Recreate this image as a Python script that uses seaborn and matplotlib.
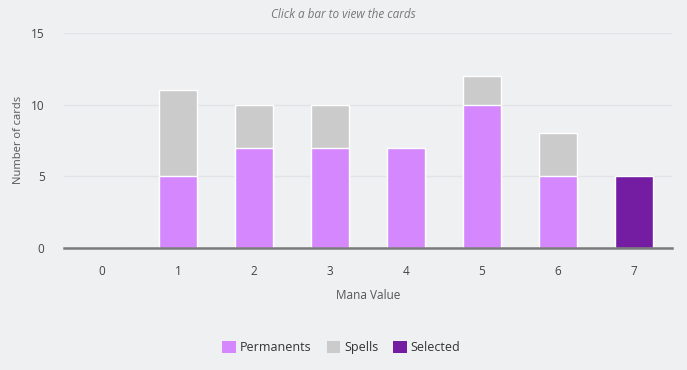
import matplotlib
matplotlib.use("Agg")
import matplotlib.pyplot as plt
import seaborn as sns
import pandas as pd
from matplotlib.patches import Patch

mana_values = ["0", "1", "2", "3", "4", "5", "6", "7"]
permanents = [0, 5, 7, 7, 7, 10, 5, 5]
spells = [0, 6, 3, 3, 0, 2, 3, 0]
selected = "7"

bg = "#eff0f2"
c_perm = "#d587fd"
c_spell = "#cbcbcb"
c_sel = "#741da3"

df = pd.DataFrame({"mana": mana_values, "perm": permanents, "spells": spells})
df["total"] = df["perm"] + df["spells"]

sns.set_theme(style="white")
plt.rcParams["font.family"] = ["Open Sans", "DejaVu Sans"]

fig = plt.figure(figsize=(6.87, 3.70), dpi=100, facecolor=bg)
ax = fig.add_axes([0.093, 0.330, 0.885, 0.581])
ax.set_facecolor(bg)

# totals in grey, permanents drawn over them
sns.barplot(data=df, x="mana", y="total", color=c_spell, width=0.49, saturation=1,
            edgecolor="white", linewidth=1.0, ax=ax)
perm_colors = [c_sel if m == selected else c_perm for m in mana_values]
sns.barplot(data=df, x="mana", y="perm", hue="mana", palette=perm_colors,
            legend=False, width=0.49, saturation=1, edgecolor="white",
            linewidth=1.0, ax=ax)

ax.set_xlim(-0.5, 7.5)
ax.set_ylim(0, 15)
ax.set_yticks([0, 5, 10, 15])
ax.yaxis.grid(True, color="#e2e3e6", linewidth=1)
ax.set_axisbelow(True)
for s in ["top", "right", "left"]:
    ax.spines[s].set_visible(False)
ax.spines["bottom"].set_color("#7a7a7a")
ax.spines["bottom"].set_linewidth(1.8)
ax.spines["bottom"].set_zorder(5)
ax.tick_params(axis="both", length=0, labelsize=8.5, labelcolor="#444444")
ax.tick_params(axis="x", pad=12)
ax.tick_params(axis="y", pad=14)

ax.set_xlabel("Mana Value", fontsize=8.5, color="#555555", labelpad=8)
ax.set_ylabel("Number of cards", fontsize=8, color="#555555", labelpad=5)

fig.text(0.5, 0.962, "Click a bar to view the cards", ha="center", va="center",
         fontsize=8.5, style="italic", color="#777777")

handles = [Patch(facecolor=c_perm, edgecolor="none", label="Permanents"),
           Patch(facecolor=c_spell, edgecolor="none", label="Spells"),
           Patch(facecolor=c_sel, edgecolor="none", label="Selected")]
fig.legend(handles=handles, loc="center", bbox_to_anchor=(0.497, 0.06), ncol=3,
           frameon=False, fontsize=9, handlelength=1.1, handleheight=1.1,
           handletextpad=0.3, columnspacing=1.2, labelcolor="#333333")

fig.savefig("out.png", dpi=100, facecolor=bg)
